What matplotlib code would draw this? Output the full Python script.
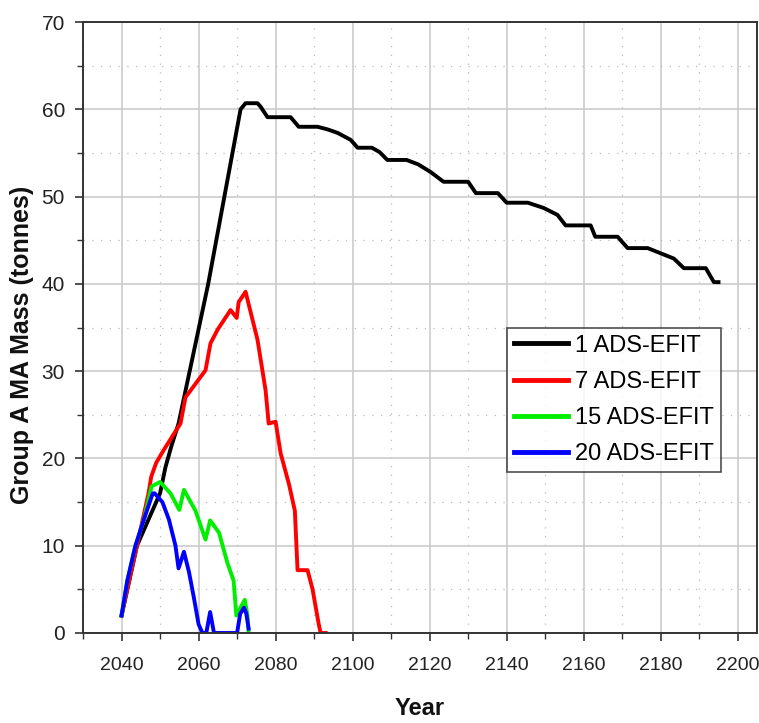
import matplotlib.pyplot as plt
import matplotlib.ticker as mticker

# 1 ADS-EFIT
years_1 = [2040, 2042, 2044, 2046, 2048, 2050, 2051.4, 2053, 2054.8, 2056.1, 2062.5, 2070.9,
           2072.2, 2075.3, 2076.1, 2077.9, 2083.9, 2086, 2090.9, 2093.5, 2096.1, 2099.5,
           2101.3, 2105, 2107, 2109, 2114, 2117, 2120.3, 2123.6, 2130, 2132, 2137.7, 2140,
           2145.5, 2149.6, 2153.2, 2155.3, 2161.8, 2163, 2168.8, 2171.4, 2176.6, 2180,
           2183.4, 2186, 2191.7, 2193.8, 2195]
mass_1 = [2, 6, 10, 12, 14, 16, 19, 21.5, 24, 26.7, 40, 60,
          60.7, 60.7, 60.3, 59.1, 59.1, 58, 58, 57.7, 57.3, 56.5,
          55.6, 55.6, 55.1, 54.2, 54.2, 53.7, 52.8, 51.7, 51.7, 50.4, 50.4, 49.3,
          49.3, 48.7, 47.9, 46.7, 46.7, 45.4, 45.4, 44.1, 44.1, 43.5,
          42.9, 41.8, 41.8, 40.2, 40.2]

# 7 ADS-EFIT
years_7 = [2040, 2042, 2044, 2046, 2047, 2047.7, 2049, 2051, 2055.3, 2056.6, 2061.8,
           2063.1, 2065, 2068.3, 2069.9, 2070.4, 2072.2, 2075.3, 2077.4, 2078.2, 2080,
           2081.3, 2083.5, 2085, 2085.7, 2088.3, 2089.6, 2091.2, 2091.7, 2093]
mass_7 = [2, 6, 10, 14, 16, 17.9, 19.5, 21, 24, 27, 30.1,
          33.2, 34.8, 37, 36.1, 37.9, 39.1, 33.6, 27.8, 24, 24.2,
          20.6, 17, 14, 7.2, 7.2, 5, 1, 0, 0]

# 15 ADS-EFIT
years_15 = [2040, 2041.5, 2043.6, 2045.8, 2047.8, 2050, 2052.7, 2055, 2056.2, 2059.2,
            2061.8, 2063, 2065.3, 2067.5, 2069.1, 2069.8, 2071, 2072, 2072.7, 2073]
mass_15 = [2, 6, 10, 13, 16.8, 17.3, 16, 14.1, 16.4, 14,
           10.7, 12.9, 11.5, 8, 6, 2, 3, 3.8, 2, 0]

# 20 ADS-EFIT
years_20 = [2040, 2041.5, 2043.6, 2045.8, 2048.1, 2048.6, 2050.6, 2052.3, 2054, 2054.8,
            2056.2, 2057.5, 2058.8, 2060, 2061, 2062, 2063, 2064, 2070, 2070.8, 2071.8,
            2072.4, 2073]
mass_20 = [2, 6, 10, 13, 16, 16, 15, 13, 10, 7.4,
           9.3, 7, 4, 1, 0, 0, 2.4, 0, 0, 2.2, 2.9,
           2.2, 0.5]

series = [
    (years_1, mass_1, "black", "1 ADS-EFIT"),
    (years_7, mass_7, "red", "7 ADS-EFIT"),
    (years_15, mass_15, "#00ee00", "15 ADS-EFIT"),
    (years_20, mass_20, "blue", "20 ADS-EFIT"),
]

plt.rcParams["font.family"] = ["Liberation Sans", "DejaVu Sans"]

fig = plt.figure(figsize=(7.59, 7.23), dpi=100)
ax = fig.add_axes([0.1094, 0.1245, 0.888, 0.845])

for x, y, color, label in series:
    ax.plot(x, y, color=color, linewidth=2.8, label=label, solid_joinstyle="round")

ax.set_xlim(2030, 2205)
ax.set_ylim(0, 70)
ax.xaxis.set_major_locator(mticker.MultipleLocator(20))
ax.xaxis.set_minor_locator(mticker.MultipleLocator(10))
ax.yaxis.set_major_locator(mticker.MultipleLocator(10))
ax.yaxis.set_minor_locator(mticker.MultipleLocator(5))
ax.set_xticks(range(2040, 2201, 20))

ax.grid(True, which="major", color="#cccccc", linewidth=1.2)
ax.grid(True, which="minor", color="#bbbbbb", linewidth=0.9, linestyle=(0, (1, 6)))
ax.set_axisbelow(True)

for side in ["left", "right", "top", "bottom"]:
    ax.spines[side].set_color("#333333")
    ax.spines[side].set_linewidth(1.4)

ax.tick_params(which="major", direction="out", length=6, width=1.2,
               colors="#333333", labelcolor="#222222")
ax.tick_params(axis="x", which="major", pad=11, labelsize=14)
ax.tick_params(axis="y", which="major", pad=7, labelsize=15)
ax.tick_params(which="minor", direction="out", length=4, width=1.0, colors="#333333")
ax.tick_params(axis="x", which="both", top=False)
ax.tick_params(axis="y", which="both", right=False)

ax.set_xlabel("Year", fontsize=17, fontweight="bold", color="#111111")
ax.set_ylabel("Group A MA Mass (tonnes)", fontsize=18, fontweight="bold", color="#111111")
ax.xaxis.set_label_coords(0.5, -0.105)
ax.yaxis.set_label_coords(-0.09, 0.471)
ax.yaxis.label.set_va("center")

leg = ax.legend(loc="upper left", bbox_to_anchor=(0.629, 0.5), fontsize=17, frameon=True,
                fancybox=False, edgecolor="#222222", handlelength=2.3, handletextpad=0.28,
                borderpad=0.3, labelspacing=0.6, borderaxespad=0)
leg.get_frame().set_linewidth(1.2)
for line in leg.get_lines():
    line.set_linewidth(3.5)

fig.savefig("out.png", dpi=100)
